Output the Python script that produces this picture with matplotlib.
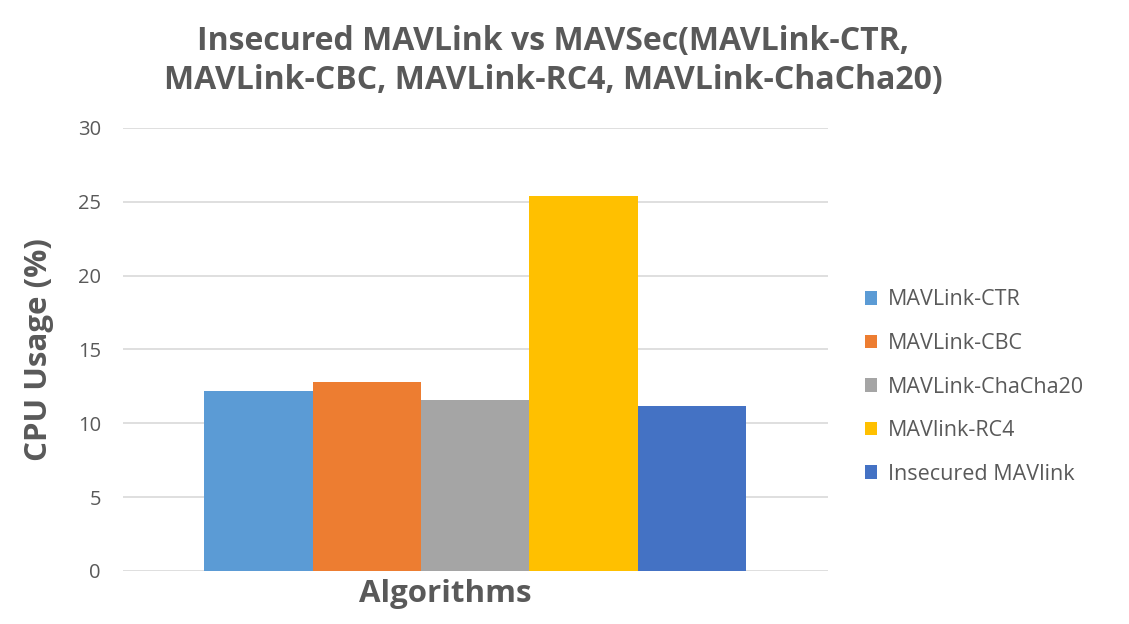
import matplotlib.pyplot as plt

# data
series = ["MAVLink-CTR", "MAVLink-CBC", "MAVLink-ChaCha20", "MAVlink-RC4", "Insecured MAVlink"]
cpu_usage = [12.2, 12.8, 11.6, 25.4, 11.2]
colors = ["#5B9BD5", "#ED7D31", "#A5A5A5", "#FFC000", "#4472C4"]
yticks = [0, 5, 10, 15, 20, 25, 30]

text_color = "#595959"
plt.rcParams["font.family"] = ["Open Sans", "DejaVu Sans"]

fig = plt.figure(figsize=(11.29, 6.24), dpi=100)
ax = fig.add_axes([0.109, 0.085, 0.624, 0.71])

bar_w = 0.769 / len(series)
for i, (name, val, c) in enumerate(zip(series, cpu_usage, colors)):
    x = (i - (len(series) - 1) / 2) * bar_w
    ax.bar(x, val, width=bar_w, color=c, label=name, zorder=3)

ax.set_xlim(-0.5, 0.5)
ax.set_ylim(0, 30)
ax.set_yticks(yticks)
ax.set_xticks([])
ax.grid(axis="y", color="#d9d9d9", linewidth=1.2, zorder=0)
for s in ax.spines.values():
    s.set_visible(False)
ax.tick_params(axis="y", length=0, pad=16, labelsize=14.5, labelcolor=text_color)

ax.set_ylabel("CPU Usage (%)", fontsize=22.5, fontweight="bold", color=text_color, labelpad=17)
fig.text(0.394, 0.048, "Algorithms", ha="center", va="center",
         fontsize=22.5, fontweight="bold", color=text_color)
fig.text(0.49, 0.902, "Insecured MAVLink vs MAVSec(MAVLink-CTR,\nMAVLink-CBC, MAVLink-RC4, MAVLink-ChaCha20)",
         ha="center", va="center", fontsize=23, fontweight="bold", color=text_color,
         linespacing=1.25)

leg = ax.legend(loc="center left", bbox_to_anchor=(1.025, 0.415), frameon=False,
                fontsize=15.5, handlelength=0.6, handleheight=0.6, handletextpad=0.5,
                labelspacing=1.05)
for t in leg.get_texts():
    t.set_color(text_color)

fig.savefig("out.png", dpi=100)
